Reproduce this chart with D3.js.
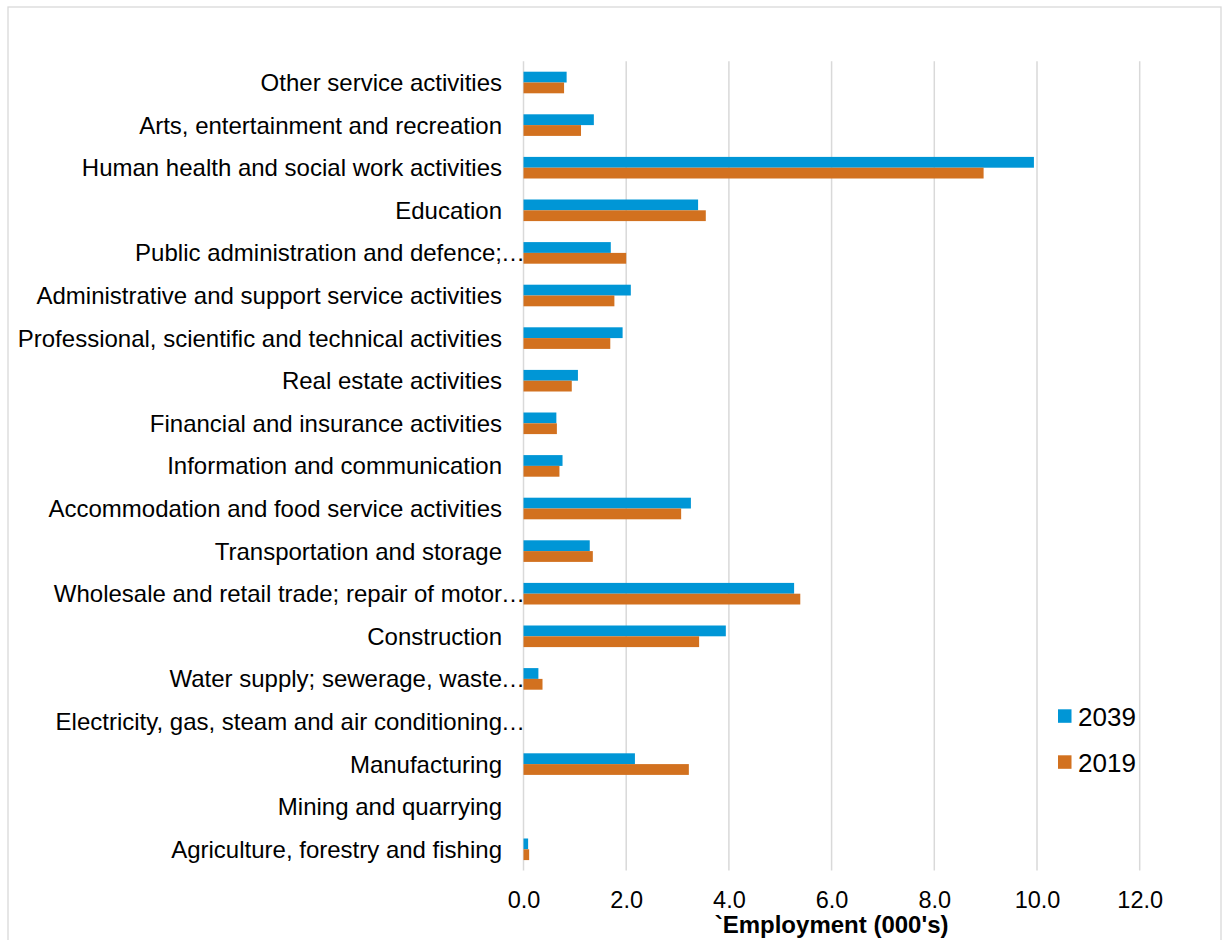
<!DOCTYPE html>
<html>
<head>
<meta charset="utf-8">
<script src="https://cdn.jsdelivr.net/npm/d3@7"></script>
<style>
  html, body { margin: 0; padding: 0; background: #ffffff; }
  svg { display: block; font-family: "Liberation Sans", Arial, sans-serif; }
</style>
</head>
<body>
<svg id="chart" width="1226" height="940"></svg>
<script>
// Employment by industry, top to bottom as drawn
const categories = [
  "Other service activities",
  "Arts, entertainment and recreation",
  "Human health and social work activities",
  "Education",
  "Public administration and defence;…",
  "Administrative and support service activities",
  "Professional, scientific and technical activities",
  "Real estate activities",
  "Financial and insurance activities",
  "Information and communication",
  "Accommodation and food service activities",
  "Transportation and storage",
  "Wholesale and retail trade; repair of motor…",
  "Construction",
  "Water supply; sewerage, waste…",
  "Electricity, gas, steam and air conditioning…",
  "Manufacturing",
  "Mining and quarrying",
  "Agriculture, forestry and fishing"
];

// Employment (000's)
const values2039 = [0.84, 1.37, 9.94, 3.40, 1.70, 2.09, 1.93, 1.06, 0.64, 0.76, 3.26, 1.29, 5.27, 3.94, 0.29, 0.0, 2.17, 0.0, 0.09];
const values2019 = [0.79, 1.12, 8.96, 3.55, 2.00, 1.77, 1.69, 0.94, 0.65, 0.70, 3.07, 1.35, 5.39, 3.42, 0.37, 0.0, 3.22, 0.0, 0.11];

const seriesNames = ["2039", "2019"];
const seriesColors = ["#0096D6", "#D2711F"];
const xTicks = [0, 2, 4, 6, 8, 10, 12];
const xTitle = "`Employment (000's)";

const svg = d3.select("#chart");

// outer frame
svg.append("rect")
  .attr("x", 8).attr("y", 7)
  .attr("width", 1213).attr("height", 945)
  .attr("fill", "#ffffff")
  .attr("stroke", "#d9d9d9")
  .attr("stroke-width", 1.3);

const plot = { left: 523.5, right: 1139.7, top: 61.2, bottom: 870.6 };

const x = d3.scaleLinear().domain([0, 12]).range([plot.left, plot.right]);
const y = d3.scaleBand()
  .domain(categories)
  .range([plot.top, plot.bottom])
  .paddingInner(0.493)
  .paddingOuter(0.2465);
const ySub = d3.scaleBand().domain(seriesNames).range([0, y.bandwidth()]);

// vertical gridlines
svg.append("g")
  .selectAll("line")
  .data(xTicks)
  .join("line")
  .attr("x1", d => x(d)).attr("x2", d => x(d))
  .attr("y1", plot.top).attr("y2", plot.bottom)
  .attr("stroke", "#d9d9d9")
  .attr("stroke-width", 1.5);

// x axis tick labels
const xAxis = d3.axisBottom(x).tickValues(xTicks).tickFormat(d3.format(".1f")).tickSize(0).tickPadding(0);
const xg = svg.append("g").attr("transform", `translate(0,${plot.bottom})`).call(xAxis);
xg.select(".domain").remove();
xg.selectAll("text")
  .attr("y", 37).attr("dy", null)
  .attr("font-size", 23.5)
  .attr("font-family", "Liberation Sans, Arial, sans-serif")
  .attr("fill", "#000000");

// axis title
svg.append("text")
  .attr("x", (plot.left + plot.right) / 2)
  .attr("y", 933)
  .attr("text-anchor", "middle")
  .attr("font-size", 24)
  .attr("font-weight", "bold")
  .attr("fill", "#000000")
  .text(xTitle);

// category labels (truncated names carry a trailing ellipsis that runs toward the axis)
const labels = svg.append("g");
categories.forEach(c => {
  const cy = y(c) + y.bandwidth() / 2 + 8.5;
  const truncated = c.endsWith("…");
  const main = truncated ? c.slice(0, -1) : c;
  labels.append("text")
    .attr("x", 502).attr("y", cy)
    .attr("text-anchor", "end")
    .attr("font-size", 24)
    .attr("fill", "#000000")
    .text(main);
  if (truncated) {
    labels.append("text")
      .attr("x", 501).attr("y", cy)
      .attr("text-anchor", "start")
      .attr("font-size", 24)
      .attr("fill", "#000000")
      .text("…");
  }
});

// bars
const rows = categories.map((c, i) => ({ cat: c, vals: [values2039[i], values2019[i]] }));
const groups = svg.append("g")
  .selectAll("g")
  .data(rows)
  .join("g")
  .attr("transform", d => `translate(0,${y(d.cat)})`);

groups.selectAll("rect")
  .data(d => d.vals.map((v, k) => ({ v, k })))
  .join("rect")
  .attr("x", x(0))
  .attr("y", d => ySub(seriesNames[d.k]))
  .attr("width", d => x(d.v) - x(0))
  .attr("height", ySub.bandwidth())
  .attr("fill", d => seriesColors[d.k]);

// legend
const legend = svg.append("g");
seriesNames.forEach((s, k) => {
  const ly = 716 + k * 46;
  legend.append("rect")
    .attr("x", 1058).attr("y", ly - 6.7)
    .attr("width", 13.5).attr("height", 13.5)
    .attr("fill", seriesColors[k]);
  legend.append("text")
    .attr("x", 1078).attr("y", ly + 9.5)
    .attr("font-size", 26)
    .attr("fill", "#000000")
    .text(s);
});
</script>
</body>
</html>
